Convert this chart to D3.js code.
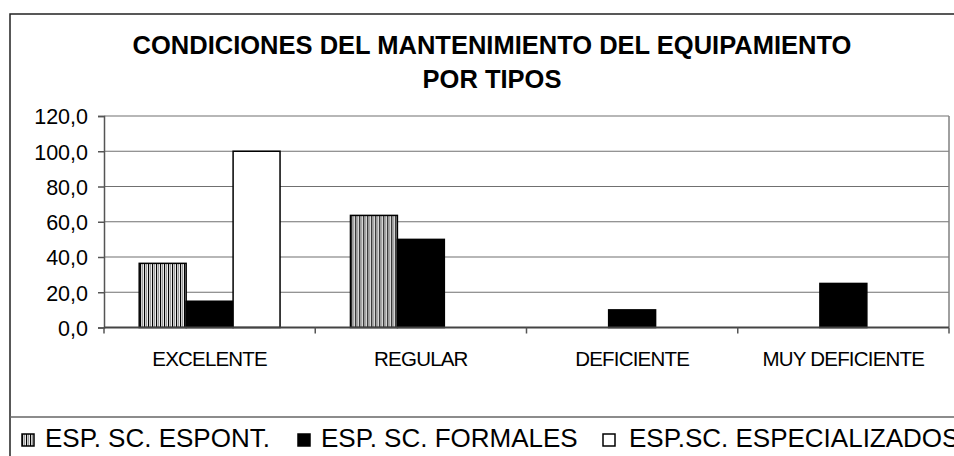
<!DOCTYPE html>
<html lang="es">
<head>
<meta charset="UTF-8">
<title>Condiciones del mantenimiento del equipamiento por tipos</title>
<script src="https://d3js.org/d3.v7.min.js"></script>
<style>
    body { margin: 0; background: #fff; }
    svg { display: block; font-family: "Liberation Sans", Arial, sans-serif; }
</style>
</head>
<body>
<div id="chart"></div>
<script>
// data
const categories = ["EXCELENTE", "REGULAR", "DEFICIENTE", "MUY DEFICIENTE"];
const seriesNames = ["ESP. SC. ESPONT.", "ESP. SC. FORMALES", "ESP.SC. ESPECIALIZADOS"];
const espontValues = [36.4, 63.6, 0, 0];
const formalesValues = [14.9, 50.0, 10.0, 25.0];
const especialValues = [100.0, 0, 0, 0];
const yTicks = [0, 20, 40, 60, 80, 100, 120];

const seriesValues = [espontValues, formalesValues, especialValues];
const rows = categories.map((c, i) => ({
    cat: c,
    vals: seriesNames.map((s, j) => ({ key: s, idx: j, value: seriesValues[j][i] }))
}));

const W = 954, H = 456;
const plot = { left: 104, right: 949, top: 116, bottom: 327.5 };

const svg = d3.select("#chart").append("svg")
    .attr("width", W).attr("height", H);

// hatch pattern for the first series
const defs = svg.append("defs");
const pat = defs.append("pattern")
    .attr("id", "stripes")
    .attr("patternUnits", "userSpaceOnUse")
    .attr("width", 4).attr("height", 4);
pat.append("rect").attr("width", 4).attr("height", 4).attr("fill", "#fff");
pat.append("rect").attr("x", 0).attr("width", 1.2).attr("height", 4).attr("fill", "#000");
pat.append("rect").attr("x", 2).attr("width", 1.2).attr("height", 4).attr("fill", "#999");

const fills = ["url(#stripes)", "#000", "#fff"];

// outer chart frame (runs off the right edge like the original)
svg.append("path")
    .attr("d", `M10,${H + 2} L10,14 L${W + 2},14`)
    .attr("fill", "none").attr("stroke", "#222").attr("stroke-width", 1.5);

// title
const title = svg.append("text")
    .attr("text-anchor", "middle")
    .attr("font-weight", "bold")
    .attr("font-size", 25.5)
    .attr("fill", "#000");
title.append("tspan").attr("x", 492).attr("y", 54).text("CONDICIONES DEL MANTENIMIENTO DEL EQUIPAMIENTO");
title.append("tspan").attr("x", 492).attr("y", 88).text("POR TIPOS");

// scales
const x0 = d3.scaleBand().domain(categories).range([plot.left, plot.right]).padding(0);
const x1 = d3.scaleBand().domain(seriesNames).range([0, x0.bandwidth()])
    .paddingInner(0).paddingOuter(0.75);
const y = d3.scaleLinear().domain([0, 120]).range([plot.bottom, plot.top]);

// gridlines
svg.append("g").selectAll("line")
    .data(yTicks.filter(d => d > 0))
    .join("line")
    .attr("x1", plot.left).attr("x2", plot.right)
    .attr("y1", d => y(d)).attr("y2", d => y(d))
    .attr("stroke", "#707070").attr("stroke-width", 1.2);

// right edge of the plot area
svg.append("line")
    .attr("x1", plot.right).attr("x2", plot.right)
    .attr("y1", plot.top).attr("y2", plot.bottom)
    .attr("stroke", "#808080").attr("stroke-width", 1.5);

// bars
const groups = svg.append("g").selectAll("g")
    .data(rows)
    .join("g")
    .attr("transform", d => `translate(${x0(d.cat)},0)`);

groups.selectAll("rect")
    .data(d => d.vals.filter(v => v.value > 0))
    .join("rect")
    .attr("x", d => x1(d.key))
    .attr("width", x1.bandwidth())
    .attr("y", d => y(d.value))
    .attr("height", d => y(0) - y(d.value))
    .attr("fill", d => fills[d.idx])
    .attr("stroke", "#000")
    .attr("stroke-width", 1.5);

// y axis
const yAxis = svg.append("g")
    .attr("transform", `translate(${plot.left},0)`)
    .call(d3.axisLeft(y).tickValues(yTicks).tickSize(6).tickPadding(10)
        .tickFormat(d => d3.format(".1f")(d).replace(".", ",")));
yAxis.select(".domain").attr("stroke", "#555").attr("stroke-width", 1.5);
yAxis.selectAll(".tick line").attr("stroke", "#555").attr("stroke-width", 1.5);
yAxis.selectAll("text")
    .attr("font-size", 21.5)
    .attr("font-family", "Liberation Sans, Arial, sans-serif")
    .attr("fill", "#000")
    .attr("dy", "0.36em");

// x axis: ticks at category boundaries
const xBounds = categories.map(c => x0(c)).concat([plot.right]);
svg.append("line")
    .attr("x1", plot.left).attr("x2", plot.right)
    .attr("y1", y(0)).attr("y2", y(0))
    .attr("stroke", "#444").attr("stroke-width", 2);
svg.append("g").selectAll("line")
    .data(xBounds)
    .join("line")
    .attr("x1", d => d).attr("x2", d => d)
    .attr("y1", y(0)).attr("y2", y(0) + 6)
    .attr("stroke", "#555").attr("stroke-width", 1.5);

svg.append("g").selectAll("text")
    .data(categories)
    .join("text")
    .attr("x", d => x0(d) + x0.bandwidth() / 2)
    .attr("y", 366)
    .attr("text-anchor", "middle")
    .attr("font-size", 20.5)
    .attr("letter-spacing", "-0.8px")
    .attr("fill", "#000")
    .text(d => d);

// legend box (top line, continues off the right edge)
svg.append("line")
    .attr("x1", 10).attr("x2", W + 2)
    .attr("y1", 417).attr("y2", 417)
    .attr("stroke", "#666").attr("stroke-width", 1.5);

const legendX = [22, 298, 603];
const legend = svg.append("g").selectAll("g")
    .data(seriesNames)
    .join("g")
    .attr("transform", (d, i) => `translate(${legendX[i]},434)`);
legend.append("rect")
    .attr("width", 12).attr("height", 12)
    .attr("fill", (d, i) => fills[i])
    .attr("stroke", "#000").attr("stroke-width", 1.5);
legend.append("text")
    .attr("x", (d, i) => i === 2 ? 26 : 23)
    .attr("y", 12.5)
    .attr("font-size", 26)
    .attr("fill", "#000")
    .text(d => d);
</script>
</body>
</html>
